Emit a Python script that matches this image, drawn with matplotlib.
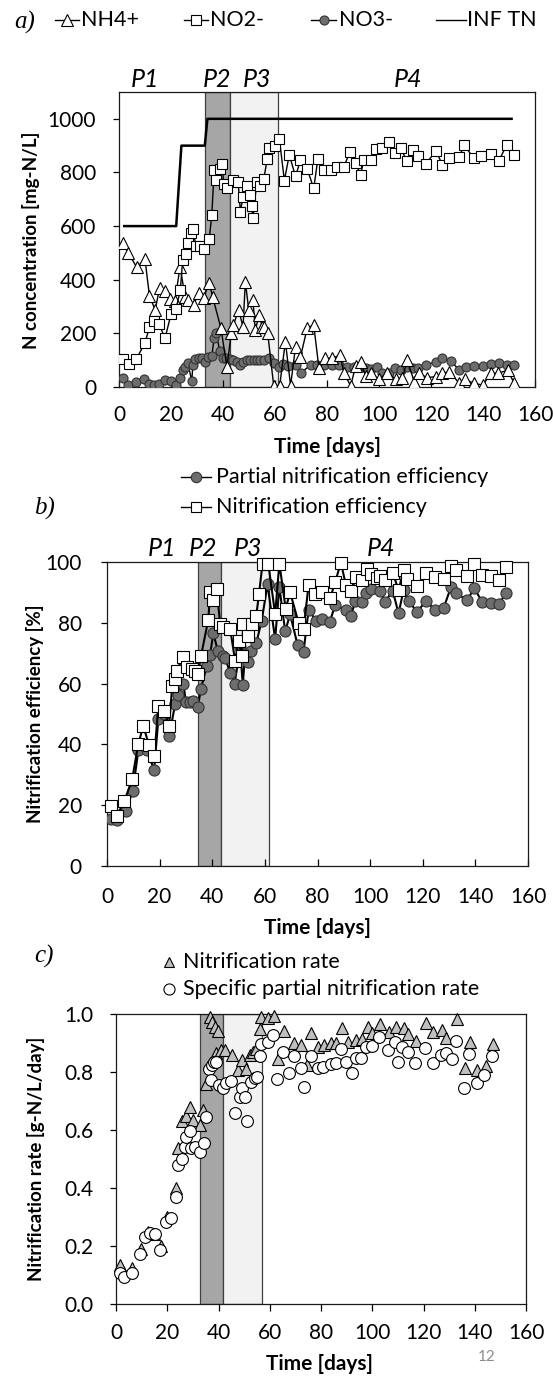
import matplotlib
matplotlib.use("Agg")
import matplotlib.pyplot as plt
from matplotlib.lines import Line2D

plt.rcParams['font.family'] = ['Lato', 'DejaVu Sans']

# ---------------- data ----------------
# Panel a: N concentration [mg-N/L]
no2_days = [1.7, 3.9, 6.6, 10, 11.7, 13.6, 15.4, 17.7, 20, 21.9, 23.6, 24.5, 25.8, 26.7, 27.7,
            28.4, 29.6, 31.2, 32.8, 34.7, 35.7, 36.6, 37.3, 39, 39.8, 40.2, 41.5, 44, 45.8, 46.7,
            47.7, 49.2, 50.5, 51, 51.5, 53, 54.4, 55.7, 57, 57.8, 59.9, 61.7, 63.6, 65.5, 67.9,
            69.8, 72.4, 74.9, 76.5, 79, 81.6, 84, 86.5, 88.8, 91, 92.9, 94.2, 96.8, 98.7, 101, 103.9,
            106.2, 108.4, 110.7, 112.9, 115, 118, 121.9, 124.4, 127, 130.9, 132.8, 136.4, 139.2,
            143.1, 146, 149.1, 152]
no2_vals = [103, 86, 103, 165, 223, 245, 235, 182, 271, 290, 362, 474, 495, 536, 573,
            590, 527, 524, 515, 552, 642, 810, 772, 812, 831, 756, 741, 772, 766, 654,
            710, 748, 716, 675, 629, 764, 748, 776, 850, 890, 897, 924, 770, 866, 785,
            847, 812, 741, 851, 808, 810, 822, 822, 876, 835, 791, 847, 845, 887, 891, 915,
            874, 891, 841, 884, 862, 831, 881, 828, 853, 859, 903, 853, 862,
            869, 841, 903, 866]

nh4_days = [1.7, 3.6, 6.8, 10, 11.7, 13.9, 15.6, 17.7, 19.5, 21.5, 23.5, 25.4, 26.7, 28.7, 30.6,
            32.5, 34.7, 36, 39.2, 41.5, 43.2, 44, 46, 47.7, 48.6, 49.9, 51.5, 52.4, 54, 55,
            55.9, 57.2, 59.5, 61.8, 64, 66, 67.9, 69.8, 72.4, 74.9, 76.9, 79.4, 82, 85, 86.5,
            89.1, 91, 92.9, 94.9, 96.8, 100, 103.2, 106.4, 109, 110.9, 113.5, 115.4, 118.5, 121.9,
            124.4, 127, 130.9, 133, 136.4, 139.9, 143.1, 145.9, 149.5, 152]
nh4_vals = [536, 499, 447, 476, 341, 287, 368, 359, 330, 320, 449, 337, 325, 306, 350,
            331, 389, 337, 219, 76, 200, 231, 287, 225, 393, 287, 325, 213, 269, 225,
            225, 200, 5, 5, 169, 5, 150, 113, 219, 231, 70, 107, 107, 119, 53,
            4, 78, 95, 41, 51, 29, 53, 29, 32, 101, 20, 51, 35, 39,
            51, 57, 14, 29, 14, 7, 51, 51, 63, 14]

no3_days = [1.7, 3.6, 6.6, 9.8, 11.7, 13.6, 15.4, 17.5, 19.9, 21.9, 23.5, 24.8, 25.4, 26.5, 28,
            28.4, 29.3, 30.6, 31.9, 32.9, 34.4, 35.7, 36.6, 37.4, 38.7, 40, 41.3, 42.8, 44, 45.4,
            46.7, 47.7, 49.2, 50.5, 51.8, 53.1, 54.4, 55.7, 57.6, 59.5, 61.4, 63.1, 65, 67.9, 70,
            73.7, 76.2, 78.8, 82, 84.6, 87.8, 90.4, 92.7, 94.9, 96.8, 99.1, 101, 103.9, 106.2,
            108.4, 110.7, 112.9, 115, 118, 121.9, 124.4, 127.6, 130.9, 133.4, 136.6, 139.9, 143.1,
            146.3, 149.2, 152]
no3_vals = [32, 7, 20, 29, 11, 7, 10, 26, 24, 7, 35, 63, 76, 88, 22,
            82, 103, 109, 107, 92, 113, 116, 182, 200, 136, 107, 107, 103, 101, 95,
            82, 95, 101, 101, 101, 101, 101, 101, 107, 88, 76, 86, 78, 82, 53,
            82, 82, 82, 82, 82, 76, 76, 76, 70, 66, 76, 51, 51, 70,
            63, 76, 70, 70, 82, 95, 107, 97, 63, 76, 78, 78, 86,
            88, 82, 82]

inf_days = [2, 22, 24, 33, 34, 151]
inf_vals = [600, 600, 900, 900, 1000, 1000]

# Panel b: efficiencies [%]
ne_days = [1.5, 3.7, 6.6, 9.6, 11.9, 13.8, 16, 18, 19.5, 21.7, 23.6, 24.8, 25.9, 26.5, 28.8,
           30.3, 32.2, 33.5, 34.5, 35.7, 38.5, 39.2, 40.4, 41.7, 43, 44.2, 46.8, 48.7, 50, 51.2,
           51.8, 53.7, 55, 56.7, 57.8, 59.1, 61.3, 63.9, 65.5, 67.9, 69.6, 72.8, 74.7, 76.6, 79.1,
           81.6, 84.8, 86.7, 88.9, 90.8, 92.8, 94.7, 96.8, 98.7, 100.4, 102.6, 103.8, 105.7, 108.6,
           110.8, 112.7, 114.2, 117.8, 121.3, 124.7, 127.9, 130.8, 132.6, 136.8, 139.6, 142.5,
           145.9, 148.8, 151.7]
ne_vals = [19.8, 16.5, 21.3, 28.7, 40.2, 46, 39.7, 36.2, 52.5, 51.1, 46.2, 59.3, 61.5, 64.3, 68.6,
           65.4, 64.8, 64.3, 63, 69, 81, 90, 87.5, 91, 79.6, 78.5, 78, 67.5, 74, 69,
           79.6, 75.7, 79.6, 82.3, 89.6, 99.5, 99.5, 82.8, 99.5, 84.7, 90, 80, 78, 92.3, 89.4,
           90, 88, 93.4, 99.8, 92.3, 90.3, 95, 94, 97.6, 96, 94.9, 95.4, 94, 96.5,
           90.7, 97.3, 94.3, 92.1, 96.5, 95.2, 94.3, 98.7, 97.4, 95.4, 99.5, 95.6,
           95.4, 94, 98.5]

pne_days = [1.5, 3.7, 7.1, 9.8, 11.9, 15.3, 17.9, 19.5, 21.7, 23.6, 25.9, 26.8, 29, 30, 31.6,
            32.8, 34.5, 35.7, 37.9, 39.2, 40.4, 42.1, 43.9, 44.9, 46.8, 48.5, 50.6, 51.6, 52.5, 53.7,
            54.8, 56.7, 58.8, 61, 63.9, 65.5, 67.7, 69.6, 72.4, 74.7, 76.6, 79.5, 81.6, 84.6, 86.7,
            90.8, 92.8, 94.3, 96.8, 98.5, 100.3, 103.8, 105.7, 108.6, 110.8, 112.7, 114.6, 117.8,
            121.3, 124.7, 127.9, 130.8, 132.6, 136.8, 139.6, 142.5, 145.9, 148.8, 151.7]
pne_vals = [15.6, 15, 18, 24.7, 38, 38, 31.5, 48.2, 50, 42.6, 53.3, 56.3, 60, 54, 54,
            54.4, 52.2, 58.3, 65.8, 69.5, 76.6, 70.8, 69.2, 68.4, 63.6, 60, 71.9, 59.7, 69.7, 67,
            70.8, 73.2, 80.7, 92.7, 74.6, 91.9, 77.2, 82.8, 72.8, 70.5, 84.2, 80.7, 81.2, 80.1, 85.8,
            84.2, 82.3, 87.2, 86.9, 89.9, 91, 90.3, 87, 90.5, 83.1, 90.7, 87.2, 83.6,
            87.2, 84.2, 84.8, 91.9, 89.9, 87.4, 91.3, 87, 86.4, 86.1, 89.7]

# Panel c: rates [g-N/L/day]
nr_days = [1.6, 6.4, 9.6, 12.6, 14.8, 17.4, 20, 23.3, 24, 25.9, 27.2, 28.8, 30.1, 32.7, 34,
           35.3, 36.6, 37.5, 38.5, 39.8, 39.2, 41.1, 42.7, 45.4, 47.6, 49.3, 50.6, 52.1, 53.4, 54.7,
           56, 56.7, 59.3, 61.6, 63.2, 65.5, 69.4, 72.2, 74.6, 76.1, 78.7, 81.3, 83.9, 85.9, 88.2,
           90.4, 93.6, 96, 98.2, 99.9, 103.1, 106.4, 109.2, 112.2, 114.1, 117, 120.9, 123.9, 127.1,
           128.7, 133.2, 136.1, 138, 140.7, 144.2, 147.1]
nr_vals = [0.134, 0.123, 0.19, 0.25, 0.24, 0.2, 0.30, 0.40, 0.537, 0.63, 0.65, 0.68, 0.635, 0.616, 0.67,
           0.757, 0.99, 0.974, 0.956, 0.94, 0.864, 0.876, 0.876, 0.86, 0.807, 0.841, 0.81, 0.858, 0.87, 0.88,
           0.95, 0.99, 0.985, 0.993, 0.844, 0.941, 0.899, 0.893, 0.824, 0.933, 0.887, 0.893, 0.901, 0.899, 0.951,
           0.905, 0.910, 0.913, 0.956, 0.933, 0.966, 0.939, 0.956, 0.951, 0.931, 0.908, 0.968, 0.937, 0.945,
           0.916, 0.982, 0.813, 0.905, 0.807, 0.821, 0.895]

spnr_days = [1.6, 3.3, 6.1, 9.3, 11.3, 13.2, 15.2, 17.1, 19.5, 21.4, 23.4, 24.2, 25.6, 26.8, 27.2,
             28.8, 29.4, 30.7, 32.7, 34.2, 35.3, 36.2, 37.2, 37.6, 38.3, 39.2, 40.2, 41.8, 43, 45,
             46.3, 48.2, 49.3, 50.2, 51.1, 52.8, 54.1, 55.1, 56, 56.7, 59.3, 61.2, 62.8, 65.1, 67.4,
             69.4, 72.2, 73.5, 76.1, 78.7, 80.9, 83.9, 85.9, 87.8, 89.8, 92.1, 93.6, 95.6, 97.5,
             99.9, 102.7, 106, 109, 109.9, 111.8, 113.8, 116.7, 120.6, 123.7, 126.7, 128.7, 131,
             132.6, 135.8, 137.7, 140.7, 143.6, 146.6]
spnr_vals = [0.108, 0.092, 0.106, 0.172, 0.23, 0.246, 0.241, 0.186, 0.284, 0.296, 0.37, 0.479, 0.499, 0.54, 0.577,
             0.597, 0.537, 0.543, 0.525, 0.554, 0.644, 0.81, 0.772, 0.824, 0.836, 0.833, 0.755, 0.744, 0.763, 0.769,
             0.657, 0.715, 0.744, 0.715, 0.632, 0.767, 0.778, 0.784, 0.855, 0.897, 0.905, 0.928, 0.775, 0.87, 0.795,
             0.855, 0.813, 0.747, 0.855, 0.815, 0.818, 0.826, 0.83, 0.878, 0.836, 0.798, 0.848, 0.848, 0.887,
             0.89, 0.92, 0.876, 0.905, 0.836, 0.887, 0.87, 0.832, 0.884, 0.832, 0.859, 0.864, 0.844,
             0.908, 0.746, 0.862, 0.763, 0.79, 0.855]

# phase boundaries (P2 start, P2 end / P3 start, P3 end) per panel
phases_a = [33, 42.5, 61]
phases_b = [34.5, 43.5, 61.5]
phases_c = [32.7, 41.6, 56.8]
phase_names = ['P1', 'P2', 'P3', 'P4']
phase_lbl_a = [10, 37.7, 53, 111]
phase_lbl_b = [21, 36.5, 53.6, 104]

# ---------------- figure ----------------
W, H = 553, 1378
fig = plt.figure(figsize=(W / 100, H / 100), dpi=100)

def ax_px(l, r, t, b):
    return fig.add_axes([l / W, 1 - b / H, (r - l) / W, (b - t) / H])

TICK_FS = 15

def style(ax, xin, xpad, ypad):
    for s in ax.spines.values():
        s.set_color('#1a1a1a')
        s.set_linewidth(0.9)
    ax.tick_params(axis='x', direction='in' if xin else 'out', length=5, width=0.9,
                   labelsize=TICK_FS, pad=xpad, top=False)
    ax.tick_params(axis='y', direction='out', length=4, width=0.9,
                   labelsize=TICK_FS, pad=ypad, right=False)
    ax.set_xlim(0, 160)
    ax.set_xticks(range(0, 161, 20))

def shade(ax, ph):
    ax.axvspan(ph[0], ph[1], facecolor='#a6a6a6', edgecolor='#404040', lw=0.9, zorder=0)
    ax.axvspan(ph[1], ph[2], facecolor='#f2f2f2', edgecolor='#404040', lw=0.9, zorder=0)

# ---- panel a ----
axa = ax_px(119, 535, 92, 387)
shade(axa, phases_a)
axa.plot(inf_days, inf_vals, color='black', lw=1.8, zorder=2)
axa.plot(no3_days, no3_vals, color='black', lw=1.0, marker='o', ms=6.5,
         mfc='#6d6d6d', mec='#333333', mew=0.8, zorder=3)
axa.plot(nh4_days, nh4_vals, color='black', lw=1.0, marker='^', ms=8.5,
         mfc='white', mec='black', mew=0.8, zorder=4)
axa.plot(no2_days, no2_vals, color='black', lw=1.0, marker='s', ms=7.5,
         mfc='white', mec='black', mew=0.8, zorder=5)
axa.set_ylim(0, 1100)
axa.set_yticks(range(0, 1001, 200))
style(axa, True, 13, 12.5)
for name, x in zip(phase_names, phase_lbl_a):
    axa.text(x, 1.005, name, transform=axa.get_xaxis_transform(), ha='center', va='bottom',
             fontsize=18, style='italic')

# ---- panel b ----
axb = ax_px(107, 528, 562, 866)
shade(axb, phases_b)
axb.plot(pne_days, pne_vals, color='black', lw=1.5, marker='o', ms=8,
         mfc='#6d6d6d', mec='#333333', mew=0.8, zorder=3)
axb.plot(ne_days, ne_vals, color='black', lw=1.5, marker='s', ms=8,
         mfc='white', mec='black', mew=0.8, zorder=4, clip_on=False)
axb.set_ylim(0, 100)
axb.set_yticks(range(0, 101, 20))
style(axb, True, 15, 14)
for name, x in zip(phase_names, phase_lbl_b):
    axb.text(x, 1.005, name, transform=axb.get_xaxis_transform(), ha='center', va='bottom',
             fontsize=18, style='italic')

# ---- panel c ----
axc = ax_px(116, 526, 1014, 1304)
shade(axc, phases_c)
axc.plot(nr_days, nr_vals, ls='none', marker='^', ms=9,
         mfc='#bfbfbf', mec='black', mew=0.8, zorder=3, clip_on=False)
axc.plot(spnr_days, spnr_vals, ls='none', marker='o', ms=8.5,
         mfc='white', mec='black', mew=0.8, zorder=4, clip_on=False)
axc.set_ylim(0, 1.0)
axc.set_yticks([0, 0.2, 0.4, 0.6, 0.8, 1.0])
axc.set_yticklabels(['0.0', '0.2', '0.4', '0.6', '0.8', '1.0'])
style(axc, False, 9, 12.5)

# ---- overlay: labels and legends ----
lax = fig.add_axes([0, 0, 1, 1], zorder=10)
lax.set_xlim(0, W)
lax.set_ylim(H, 0)
lax.axis('off')
lax.patch.set_alpha(0)

YLAB_FS = 13.5
XLAB_FS = 15
lax.text(31, 240, 'N concentration [mg-N/L]', rotation=90, ha='center', va='center',
         fontsize=YLAB_FS, fontweight='bold')
lax.text(35, 714, 'Nitrification efficiency [%]', rotation=90, ha='center', va='center',
         fontsize=YLAB_FS, fontweight='bold')
lax.text(36, 1159, 'Nitrification rate [g-N/L/day]', rotation=90, ha='center', va='center',
         fontsize=YLAB_FS, fontweight='bold')
lax.text(327, 447, 'Time [days]', ha='center', va='center', fontsize=XLAB_FS, fontweight='bold')
lax.text(317, 928, 'Time [days]', ha='center', va='center', fontsize=XLAB_FS, fontweight='bold')
lax.text(319, 1364, 'Time [days]', ha='center', va='center', fontsize=XLAB_FS, fontweight='bold')

for txt, x, y in [('a)', 14, 22), ('b)', 34, 508), ('c)', 34, 956)]:
    lax.text(x, y, txt, ha='left', va='center', fontsize=18,
             family='Liberation Serif', style='italic')

LEG_FS = 15.5
def leg_item(x0, x1, y, text, tx, **mk):
    lax.add_line(Line2D([x0, x1], [y, y], color='black', lw=1.0))
    if mk:
        lax.add_line(Line2D([(x0 + x1) / 2], [y], ls='none', **mk))
    lax.text(tx, y, text, ha='left', va='center', fontsize=LEG_FS)

leg_item(55, 79, 20, 'NH4+', 81, marker='^', ms=8, mfc='white', mec='black', mew=0.8)
leg_item(184, 208, 20, 'NO2-', 210, marker='s', ms=7, mfc='white', mec='black', mew=0.8)
leg_item(311, 336, 20, 'NO3-', 339, marker='o', ms=6.5, mfc='#6d6d6d', mec='#333333', mew=0.8)
leg_item(436, 466, 20, 'INF TN', 467)

leg_item(181, 211, 477, 'Partial nitrification efficiency', 216,
         marker='o', ms=7.5, mfc='#6d6d6d', mec='#333333', mew=0.8)
leg_item(181, 211, 507, 'Nitrification efficiency', 216,
         marker='s', ms=7.5, mfc='white', mec='black', mew=0.8)

lax.add_line(Line2D([169], [962], ls='none', marker='^', ms=7.5, mfc='#bfbfbf', mec='black', mew=0.8))
lax.text(183, 962, 'Nitrification rate', ha='left', va='center', fontsize=LEG_FS)
lax.add_line(Line2D([169], [989], ls='none', marker='o', ms=8, mfc='white', mec='black', mew=0.8))
lax.text(183, 989, 'Specific partial nitrification rate', ha='left', va='center', fontsize=LEG_FS)

lax.text(487, 1357, '12', ha='center', va='center', fontsize=11, color='#8c8c8c')

fig.savefig('out.png', dpi=100)
